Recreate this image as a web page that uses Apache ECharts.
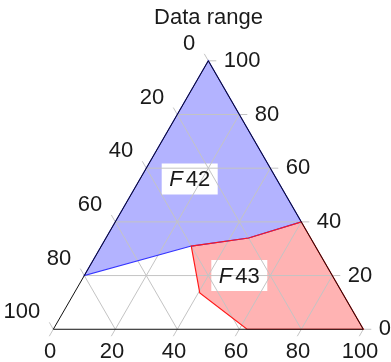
<!DOCTYPE html>
<html>
<head>
<meta charset="utf-8">
<script src="https://cdn.jsdelivr.net/npm/echarts@6/dist/echarts.min.js"></script>
<style>
  html, body { margin: 0; padding: 0; background: #fff; }
  #chart { width: 391px; height: 362px; }
</style>
</head>
<body>
<div id="chart"></div>
<script>
// Ternary components: a = bottom axis, b = right axis, c = left axis (a + b + c = 100).
// Points are stored as [a, b]; c is implied.
const tickValues = [0, 20, 40, 60, 80, 100];
const tickLabels = ['0', '20', '40', '60', '80', '100'];

// Region F42 (upper, blue)
const f42Points = [[0, 100], [0, 20], [29, 31], [46, 34], [60, 40]];
// Region F43 (lower right, red)
const f43Points = [[29, 31], [46, 34], [60, 40], [100, 0], [62.5, 0], [40.5, 13.5]];

// Label anchors for the two regions, [a, b]
const regionNames = ['42', '43'];
const regionLabelPos = [[16, 56], [50, 20]];

const FONT = '"Liberation Sans", Arial, sans-serif';
const FS = 22;
const TEXT = '#1a1a1a';
const GRID = '#c4c4c4';
const H = Math.sqrt(3) / 2;

// ternary [a, b] -> cartesian [x, y] of the equilateral triangle
function toXY(a, b) { return [a + b / 2, b * H]; }

const chart = echarts.init(document.getElementById('chart'), null, { renderer: 'canvas' });

function custom(name, render) {
  return {
    type: 'custom', name: name, coordinateSystem: 'cartesian2d',
    data: [[0, 0]], clip: false, silent: true, animation: false,
    renderItem: function (params, api) {
      const c = (a, b) => api.coord(toXY(a, b));
      return { type: 'group', children: render(c) };
    }
  };
}

const fills = custom('fills', c => [
  { type: 'polygon', shape: { points: f42Points.map(p => c(p[0], p[1])) },
    style: { fill: '#b3b3ff', stroke: null } },
  { type: 'polygon', shape: { points: f43Points.map(p => c(p[0], p[1])) },
    style: { fill: '#ffb3b3', stroke: null } }
]);

const BOX_W = 56, BOX_H = 31;
const boxes = custom('boxes', c => regionLabelPos.map(p => {
  const q = c(p[0], p[1]);
  return { type: 'rect', shape: { x: q[0] - BOX_W / 2, y: q[1] - BOX_H / 2, width: BOX_W, height: BOX_H },
           style: { fill: '#fff' } };
}));

const TL = 8; // tick length in px
const grid = custom('grid', c => {
  const out = [];
  const seg = (p, q) => out.push({ type: 'line', shape: { x1: p[0], y1: p[1], x2: q[0], y2: q[1] },
                                   style: { stroke: GRID, lineWidth: 1 } });
  tickValues.forEach(v => {
    // bottom axis: lines parallel to the left edge
    const b0 = c(v, 0);
    if (v > 0 && v < 100) seg(b0, c(v, 100 - v));
    seg(b0, [b0[0] - 0.5 * TL, b0[1] + H * TL]);
    // right axis: horizontal lines
    const r0 = c(100 - v, v);
    if (v > 0 && v < 100) seg(c(0, v), r0);
    seg(r0, [r0[0] + TL, r0[1]]);
    // left axis: lines parallel to the right edge
    const l0 = c(0, 100 - v);
    if (v > 0 && v < 100) seg(l0, c(100 - v, 0));
    seg(l0, [l0[0] - 0.5 * TL, l0[1] - H * TL]);
  });
  return out;
});

const strokes = custom('strokes', c => [
  { type: 'polygon', shape: { points: f42Points.map(p => c(p[0], p[1])) },
    style: { fill: null, stroke: '#3333ff', lineWidth: 1.2 } },
  { type: 'polygon', shape: { points: f43Points.map(p => c(p[0], p[1])) },
    style: { fill: null, stroke: '#ff1a1a', lineWidth: 1.2 } }
]);

const frame = custom('frame', c => [
  { type: 'polygon', shape: { points: [c(0, 0), c(100, 0), c(0, 100)] },
    style: { fill: null, stroke: '#111', lineWidth: 1 } }
]);

const texts = custom('texts', c => {
  const out = [];
  const txt = (x, y, s, align) => out.push({ type: 'text', x: x, y: y,
    style: { text: s, fill: TEXT, font: FS + 'px ' + FONT, align: align, verticalAlign: 'middle' } });
  tickValues.forEach((v, i) => {
    const b0 = c(v, 0);
    txt(b0[0] - 3.3, b0[1] + 22.4, tickLabels[i], 'center');
    const r0 = c(100 - v, v);
    txt(r0[0] + 15.5, r0[1], tickLabels[i], 'left');
    const l0 = c(0, 100 - v);
    txt(l0[0] - 13, l0[1] - 17, tickLabels[i], 'right');
  });
  regionLabelPos.forEach((p, i) => {
    const q = c(p[0], p[1]);
    out.push({ type: 'text', x: q[0], y: q[1] + 1,
      style: { text: '{i|F}{n|' + regionNames[i] + '}', align: 'center', verticalAlign: 'middle',
        rich: {
          i: { fontStyle: 'italic', fontSize: FS, fontFamily: FONT, fill: TEXT, padding: [0, 3, 0, 0] },
          n: { fontSize: FS, fontFamily: FONT, fill: TEXT }
        } } });
  });
  return out;
});

chart.setOption({
  animation: false,
  backgroundColor: '#fff',
  graphic: [{ type: 'text', x: 208.5, y: 18, silent: true,
    style: { text: 'Data range', fill: TEXT, font: FS + 'px ' + FONT, align: 'center', verticalAlign: 'middle' } }],
  grid: { left: 53.3, top: 60.8, width: 310, height: 310 * H, containLabel: false },
  xAxis: { type: 'value', min: 0, max: 100, show: false },
  yAxis: { type: 'value', min: 0, max: 100 * H, show: false },
  series: [fills, boxes, grid, strokes, frame, texts]
});
</script>
</body>
</html>
